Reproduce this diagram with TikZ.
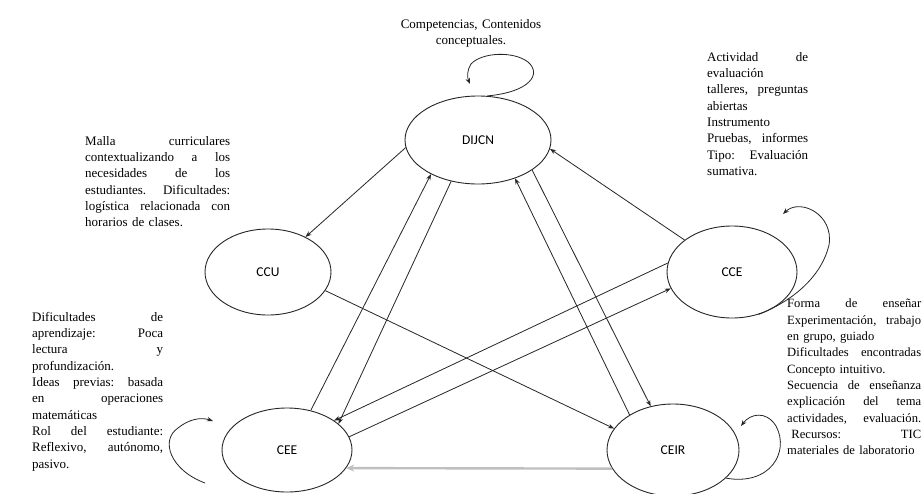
\documentclass[tikz,border=0pt]{standalone}
\usepackage{fontspec}
\setmainfont{Liberation Serif}
\newfontfamily\lblfont{Carlito}
\usetikzlibrary{shapes.geometric,arrows.meta}
\begin{document}
\begin{tikzpicture}[x=1pt,y=-1pt,
  state/.style={draw=black!85,line width=0.9pt,ellipse,inner sep=0pt,font=\lblfont\fontsize{13.5}{15}\selectfont},
  txt/.style={inner sep=0pt,anchor=north west,align=left,font=\fontsize{13}{16.3}\selectfont},
  conn/.style={draw=black!85,line width=0.8pt},
  tip/.style={-{Stealth[length=6pt,width=4.5pt]}},
  loopy/.style={draw=black!85,line width=0.8pt,-{Stealth[length=6pt,width=4.5pt]}}
]
\useasboundingbox (0,0) rectangle (923,493);
\fill[white] (0,0) rectangle (923,493);

% states
\node[state,minimum width=146pt,minimum height=88pt] (dij) at (478,140) {DIJCN};
\node[state,minimum width=126pt,minimum height=86pt] (ccu) at (268,272) {CCU};
\node[state,minimum width=130pt,minimum height=92pt] (cce) at (732,272) {CCE};
\node[state,minimum width=130pt,minimum height=84pt] (cee) at (287,450) {CEE};
\node[state,minimum width=132pt,minimum height=92pt] (ceir) at (673,450) {CEIR};

% texts
\node[txt,anchor=north,align=center,text width=160pt] (tdij) at (471,19) {Competencias, Contenidos\\conceptuales.};
\node[txt,text width=101pt] (tcce) at (707,52) {Actividad\hfill de\\evaluación\\talleres,\hfill preguntas\\abiertas\\Instrumento\\Pruebas,\hfill informes\\Tipo:\hfill Evaluación\\sumativa.};
\node[txt,text width=145pt] (tccu) at (85,136) {Malla\hfill curriculares\\contextualizando\hfill a\hfill los\\necesidades\hfill de\hfill los\\estudiantes.\hfill Dificultades:\\logística\hfill relacionada\hfill con\\horarios de clases.};
\node[txt,text width=131pt] (tcee) at (32,312) {Dificultades\hfill de\\aprendizaje:\hfill Poca\\lectura\hfill y\\profundización.\\Ideas\hfill previas:\hfill basada\\en\hfill operaciones\\matemáticas\\Rol\hfill del\hfill estudiante:\\Reflexivo,\hfill autónomo,\\pasivo.};
\node[txt,text width=134pt,font=\fontsize{12.6}{16.3}\selectfont] (tceir) at (787,299) {Forma\hfill de\hfill enseñar\\Experimentación,\hfill trabajo\\en grupo, guiado\\Dificultades\hfill encontradas\\Concepto intuitivo.\\Secuencia\hfill de\hfill enseñanza\\explicación\hfill del\hfill tema\\actividades,\hfill evaluación.\\\ Recursos:\hfill TIC\\materiales de laboratorio};

% connectors
\draw[conn,tip] (dij.186) -- (ccu.43);
\draw[conn,tip] (cce.146) -- (dij.353);
\draw[conn,tip] (cee.59) -- (dij.216);
\draw[conn,tip] (dij.237) -- (cee.27);
\draw[conn,tip] (ceir.141) -- (dij.314);
\draw[conn,tip] (dij.331) -- (ceir.117);
\draw[conn,tip] (ccu.342) -- (ceir.160);
\draw[conn,tip] (cce.172) -- (cee.32);
\draw[conn,tip] (cee.12) -- (cce.195);
\draw[draw=black!25,line width=2.4pt,-{Stealth[length=8pt,width=7pt]}] (ceir.197) -- (cee.343);

% self loops
\draw[loopy] (dij.78) .. controls (530,92) and (542,74) .. (528,62) .. controls (514,51) and (482,52) .. (471,64) .. controls (467,70) and (467,77) .. (470,84);
\draw[loopy] (cce.-58) .. controls (795,300) and (822,275) .. (829,245) .. controls (834,214) and (800,198) .. (783,214);
\draw[loopy] (205,483) .. controls (170,470) and (160,440) .. (178,428) .. controls (189,419) and (201,417) .. (213,421);
\draw[loopy] (ceir.-28) .. controls (770,486) and (790,452) .. (776,426) .. controls (766,410) and (750,414) .. (741,426);
\end{tikzpicture}
\end{document}
